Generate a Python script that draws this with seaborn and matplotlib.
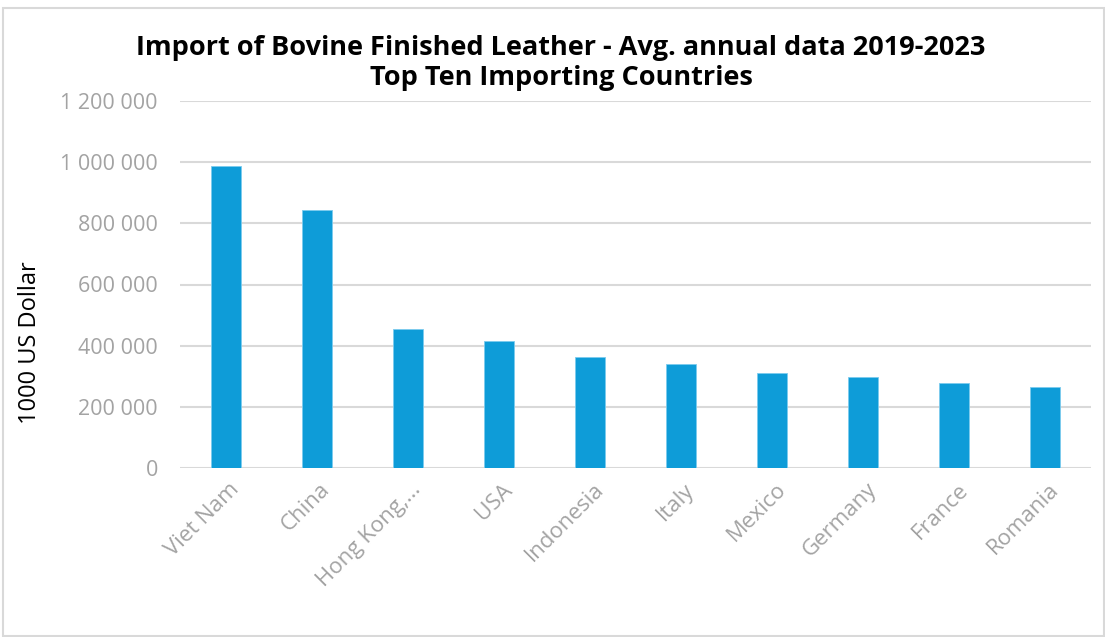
import matplotlib.pyplot as plt
import matplotlib.transforms as mtransforms
import seaborn as sns
import pandas as pd
from matplotlib.patches import Rectangle

sns.set_style("white")
plt.rcParams['font.family'] = ['Open Sans', 'DejaVu Sans']

countries = ["Viet Nam", "China", "Hong Kong,...", "USA", "Indonesia",
             "Italy", "Mexico", "Germany", "France", "Romania"]
imports = [989000, 844000, 454000, 416000, 364000,
           341000, 312000, 298000, 279000, 266000]
y_ticks = [0, 200000, 400000, 600000, 800000, 1000000, 1200000]

BAR_COLOR = "#0E9CD8"
GRID_COLOR = "#D9D9D9"
TICK_COLOR = "#A3A3A3"


def fmt_space(v, _=None):
    return f"{int(v):,}".replace(",", " ")


def plot():
    df = pd.DataFrame({"Country": countries, "Import": imports})

    fig = plt.figure(figsize=(11.05, 6.37), dpi=100)
    # chart border
    fig.patches.append(Rectangle((3 / 1105, 0.002), 1 - 4 / 1105, 1 - 9 / 637,
                                 transform=fig.transFigure, fill=False,
                                 edgecolor="#D9D9D9", linewidth=1.5))

    ax = fig.add_axes([180 / 1105, 1 - 468 / 637, (1091 - 180) / 1105, (468 - 101) / 637])
    sns.barplot(data=df, x="Country", y="Import", ax=ax, color=BAR_COLOR,
                saturation=1, width=0.33, edgecolor="#7CCBEE", linewidth=0.6)

    ax.set_ylim(0, 1200000)
    ax.set_yticks(y_ticks)
    ax.yaxis.set_major_formatter(plt.FuncFormatter(fmt_space))
    ax.grid(axis="y", color=GRID_COLOR, linewidth=1.5)
    ax.set_axisbelow(True)
    for s in ax.spines.values():
        s.set_visible(False)
    ax.tick_params(axis="y", length=0, pad=16, labelsize=15.5, labelcolor=TICK_COLOR)
    ax.tick_params(axis="x", length=0, pad=8, labelsize=16, labelcolor=TICK_COLOR)
    shift = mtransforms.ScaledTranslation(3 / 100, 0, fig.dpi_scale_trans)
    for lbl in ax.get_xticklabels():
        lbl.set_rotation(45)
        lbl.set_ha("right")
        lbl.set_rotation_mode("anchor")
        lbl.set_transform(lbl.get_transform() + shift)
    ax.set_xlabel("")
    ax.set_ylabel("")
    ax.set_xlim(-0.5, 9.5)

    fig.text(30 / 1105, 1 - 343 / 637, "1000 US Dollar", rotation=90,
             ha="center", va="center", fontsize=17, color="black")
    fig.text(561 / 1105, 1 - 63 / 637,
             "Import of Bovine Finished Leather - Avg. annual data 2019-2023\nTop Ten Importing Countries",
             ha="center", va="center", fontsize=19.5, fontweight="bold",
             linespacing=1.2, color="black")

    fig.savefig("out.png", dpi=100)


if __name__ == "__main__":
    plot()
